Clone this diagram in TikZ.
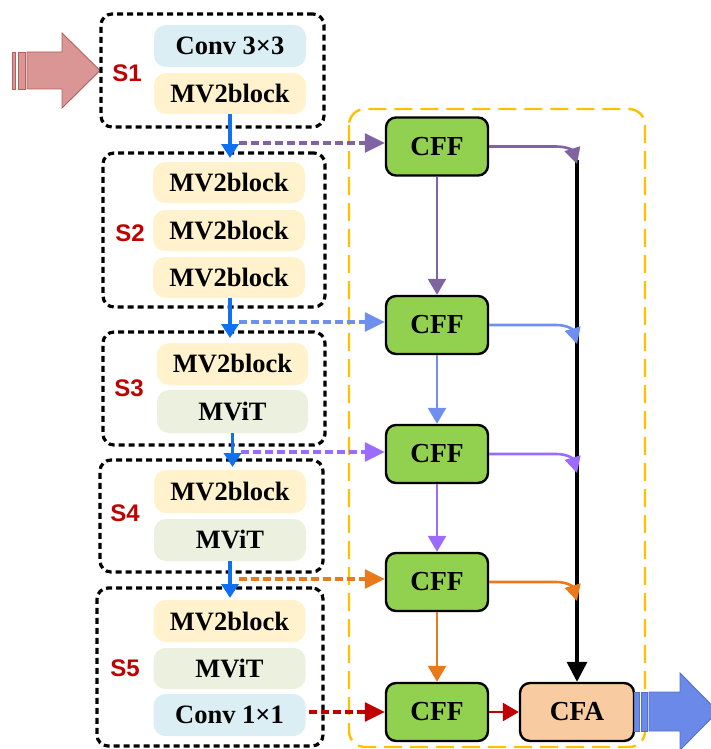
\documentclass[tikz,border=0pt]{standalone}
\usepackage{fontspec}
\setmainfont{Liberation Serif}
\newfontfamily\labsans{Liberation Sans}
\usetikzlibrary{arrows.meta}
\definecolor{cffgreen}{HTML}{92D050}
\definecolor{cfapeach}{HTML}{F8CBA0}
\definecolor{convblue}{HTML}{DAEEF3}
\definecolor{mvtwo}{HTML}{FFF2CC}
\definecolor{mvit}{HTML}{EBF1DE}
\definecolor{labred}{HTML}{C00000}
\definecolor{cpurple}{HTML}{8064A2}
\definecolor{cblue}{HTML}{6E8EF0}
\definecolor{cviolet}{HTML}{9B6BFF}
\definecolor{corange}{HTML}{E97A1C}
\definecolor{cred}{HTML}{C00000}
\definecolor{stepblue}{HTML}{1070F0}
\definecolor{yellowbox}{HTML}{FFC000}
\definecolor{inpink}{HTML}{D99694}
\definecolor{inpinkd}{HTML}{B0605E}
\definecolor{outblue}{HTML}{6A89E8}
\definecolor{outblued}{HTML}{5570C8}
\newcommand\blkfont{\fontsize{26.5}{28}\selectfont\bfseries}
\newcommand\cfffont{\fontsize{27.5}{30}\selectfont\bfseries}
\newcommand\labfont{\labsans\fontsize{24}{26}\selectfont\bfseries}
\begin{document}
\begin{tikzpicture}[x=1pt,y=-1pt,
  stagebox/.style={draw=black, line width=3.2pt, dash pattern=on 6pt off 4pt, rounded corners=11pt, inner sep=0pt},
  blk/.style={rounded corners=12pt, minimum width=152pt, minimum height=41pt, inner sep=0pt, font=\blkfont},
  convb/.style={blk, fill=convblue},
  mvb/.style={blk, fill=mvtwo},
  vitb/.style={blk, fill=mvit},
  slab/.style={font=\labfont, text=labred, inner sep=0pt},
  cffbox/.style={draw=black, line width=2.4pt, fill=cffgreen, rounded corners=10pt, minimum width=102pt, minimum height=58pt, inner sep=0pt, font=\cfffont},
  stepar/.style={draw=stepblue, line width=3.6pt, -{Triangle[length=14pt,width=17pt]}},
  dashar/.style={line width=3.2pt, dash pattern=on 8pt off 4pt, -{Triangle[length=20pt,width=19pt]}},
  vertar/.style={line width=2.6pt, -{Triangle[length=16pt,width=18pt]}},
  sidear/.style={line width=2.6pt, -{Triangle[length=16pt,width=16pt]}},
]
\useasboundingbox (0,0) rectangle (711,749);
\clip (0,0) rectangle (711,749);

% yellow frame
\draw[yellowbox, line width=2.4pt, dash pattern=on 18pt off 8pt, rounded corners=16pt] (349,109) rectangle (645,747);

% input arrow
\filldraw[fill=inpink, draw=inpinkd, line width=0.9pt] (12,52) rectangle (15,89);
\filldraw[fill=inpink, draw=inpinkd, line width=0.9pt] (18,52) rectangle (25,89);
\filldraw[fill=inpink, draw=inpinkd, line width=0.9pt] (27,52) -- (62,52) -- (62,33) -- (100,70.5) -- (62,108) -- (62,89) -- (27,89) -- cycle;

% stages
\node[stagebox, minimum width=223pt, minimum height=113pt] (S1box) at (212.5,70.5) {};
\node[stagebox, minimum width=222pt, minimum height=154pt] (S2box) at (214,230) {};
\node[stagebox, minimum width=222pt, minimum height=113pt] (S3box) at (214,388.5) {};
\node[stagebox, minimum width=223pt, minimum height=112pt] (S4box) at (211.5,516) {};
\node[stagebox, minimum width=226pt, minimum height=158pt] (S5box) at (210,667) {};

\node[slab] (S1lab) at (127,73) {S1};
\node[slab] (S2lab) at (130,233) {S2};
\node[slab] (S3lab) at (129,388) {S3};
\node[slab] (S4lab) at (125,513) {S4};
\node[slab] (S5lab) at (125,668) {S5};

% blocks
\node[convb, minimum height=42pt] (c33) at (230,46) {Conv 3×3};
\node[mvb] (m1) at (230,93.5) {MV2block};
\node[mvb] (m2a) at (229,182.5) {MV2block};
\node[mvb] (m2b) at (229,230.5) {MV2block};
\node[mvb] (m2c) at (229,277.5) {MV2block};
\node[mvb, minimum width=151pt, minimum height=42pt] (m3) at (232.5,364) {MV2block};
\node[vitb, minimum width=151pt, minimum height=43pt] (v3) at (232.5,411.5) {MViT};
\node[mvb, minimum height=43pt] (m4) at (230,491.5) {MV2block};
\node[vitb, minimum height=42pt] (v4) at (230,540) {MViT};
\node[mvb, minimum height=42pt] (m5) at (229.5,621) {MV2block};
\node[vitb] (v5) at (229.5,668.5) {MViT};
\node[convb, minimum height=42pt] (c11) at (229.5,715) {Conv 1×1};

% CFF / CFA
\node[cffbox] (f1) at (437,146.5) {CFF};
\node[cffbox] (f2) at (437,325) {CFF};
\node[cffbox] (f3) at (437,454) {CFF};
\node[cffbox] (f4) at (437,582) {CFF};
\node[cffbox] (f5) at (437,712) {CFF};
\node[cffbox, fill=cfapeach, minimum width=114pt] (cfa) at (577,712) {CFA};

% stage-to-stage arrows
\coordinate (t1) at (230,158);
\coordinate (t2) at (230,338);
\coordinate (t3) at (232.5,467);
\coordinate (t4) at (230,598);
\draw[stepar] (m1.south) -- (t1);
\draw[stepar] (m2c.south -| t2) -- (t2);
\draw[stepar] (v3.south) -- (t3);
\draw[stepar] (v4.south) -- (t4);

% dashed connectors
\coordinate (d1) at (239,143);
\coordinate (d2) at (239,322);
\coordinate (d3) at (241,452);
\coordinate (d4) at (239,579);
\draw[dashar, cpurple] (d1) -- (d1 -| f1.west);
\draw[dashar, cblue] (d2) -- (d2 -| f2.west);
\draw[dashar, cviolet] (d3) -- (d3 -| f3.west);
\draw[dashar, corange] (d4) -- (d4 -| f4.west);
\draw[dashar, cred] ([xshift=3pt]c11.east |- f5.west) -- (f5.west);

% vertical CFF chain
\draw[vertar, cpurple] (f1.south) -- (f2.north);
\draw[vertar, cblue] (f2.south) -- (f3.north);
\draw[vertar, cviolet] (f3.south) -- (f4.north);
\draw[vertar, corange] (f4.south) -- (f5.north);
\draw[vertar, cred] (f5.east) -- (cfa.west);

% black collector line
\coordinate (btop) at (577,160);
\draw[line width=3.4pt, -{Triangle[length=20pt,width=20pt]}] (btop) -- (cfa.north);

% side arrows into collector
\coordinate (k1) at (577,164);
\coordinate (k2) at (577,344);
\coordinate (k3) at (577,473);
\coordinate (k4) at (577,601);
\draw[sidear, cpurple] (f1.east) -- (556,146.5) .. controls (568,146.5) and (573,151) .. (k1);
\draw[sidear, cblue] (f2.east) -- (556,325) .. controls (568,325) and (573,330) .. (k2);
\draw[sidear, cviolet] (f3.east) -- (556,454) .. controls (568,454) and (573,459) .. (k3);
\draw[sidear, corange] (f4.east) -- (556,582) .. controls (568,582) and (573,587) .. (k4);

% output arrow
\filldraw[fill=outblue, draw=outblued, line width=0.9pt] (634,692) rectangle (639,731);
\filldraw[fill=outblue, draw=outblued, line width=0.9pt] (641,692) rectangle (647,731);
\filldraw[fill=outblue, draw=outblued, line width=0.9pt] (649,692) -- (680,692) -- (680,673) -- (718,711.5) -- (680,750) -- (680,731) -- (649,731) -- cycle;
\end{tikzpicture}
\end{document}
